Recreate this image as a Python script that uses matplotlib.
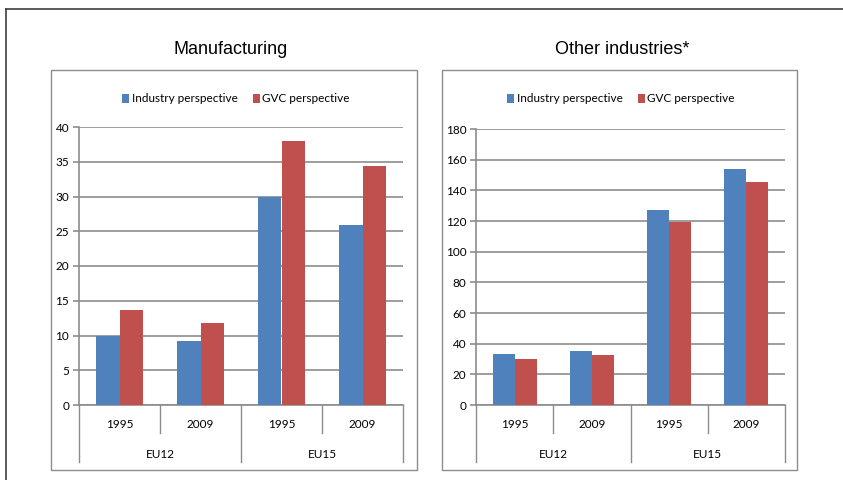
import matplotlib
matplotlib.use("Agg")
import matplotlib.pyplot as plt
from matplotlib.patches import Rectangle
from matplotlib.lines import Line2D

# data
years = ["1995", "2009", "1995", "2009"]
groups = ["EU12", "EU15"]
series = ["Industry perspective", "GVC perspective"]
manuf_industry = [10.0, 9.2, 30.0, 25.9]
manuf_gvc = [13.6, 11.8, 38.0, 34.4]
other_industry = [33.2, 35.4, 127.4, 153.7]
other_gvc = [29.8, 32.6, 119.6, 145.6]

BLUE = "#4F81BD"
RED = "#C0504D"
GRID = "#8c8c8c"
NARROW = ["Lato", "DejaVu Sans"]
SMALL = 8.5

W, H = 843, 480
fig = plt.figure(figsize=(W / 100, H / 100), dpi=100)


def fx(px):
    return px / W


def fy(py):
    return 1 - py / H


# outer frame (left and top edges only visible)
fig.add_artist(Line2D([fx(6), fx(6)], [fy(9), 0], transform=fig.transFigure, color="#404040", lw=1.2))
fig.add_artist(Line2D([fx(6), 1], [fy(9), fy(9)], transform=fig.transFigure, color="#404040", lw=1.2))


def panel(box, axbox, title, title_x, legend_x, ind, gvc, ymax, ystep):
    # chart border
    x0, y0, x1, y1 = box
    fig.add_artist(Rectangle((fx(x0), fy(y1)), fx(x1) - fx(x0), fy(y0) - fy(y1),
                             transform=fig.transFigure, fill=False, ec=GRID, lw=1.0))
    fig.text(fx(title_x), fy(50), title, ha="center", va="center",
             family="Liberation Sans", fontsize=13)

    ax_l, ax_t, ax_r, ax_b = axbox
    ax = fig.add_axes([fx(ax_l), fy(ax_b), fx(ax_r) - fx(ax_l), fy(ax_t) - fy(ax_b)])
    xs = range(len(ind))
    w = 0.285
    b1 = ax.bar([x - w / 2 for x in xs], ind, w, color=BLUE, zorder=3)
    b2 = ax.bar([x + w / 2 for x in xs], gvc, w, color=RED, zorder=3)

    ax.set_xlim(-0.5, len(ind) - 0.5)
    ax.set_ylim(0, ymax)
    ax.set_yticks(range(0, ymax + 1, ystep))
    ax.yaxis.grid(True, color=GRID, lw=1.2, zorder=0)
    ax.set_axisbelow(True)
    for s in ["top", "right"]:
        ax.spines[s].set_visible(False)
    for s in ["left", "bottom"]:
        ax.spines[s].set_color(GRID)
        ax.spines[s].set_linewidth(1.2)
    ax.tick_params(axis="y", colors=GRID, length=4, width=1.2, pad=3)
    for lab in ax.get_yticklabels():
        lab.set_color("black")
        lab.set_family(NARROW)
        lab.set_fontsize(SMALL)
    ax.set_xticks([])

    # multi-level category axis
    hpx = ax_b - ax_t
    tr = ax.get_xaxis_transform()
    for x in [0.5, 2.5]:
        ax.plot([x, x], [0, -28 / hpx], transform=tr, color=GRID, lw=1.0, clip_on=False)
    for x in [-0.5, 1.5, 3.5]:
        ax.plot([x, x], [0, -57 / hpx], transform=tr, color=GRID, lw=1.0, clip_on=False)
    for i, yr in enumerate(years):
        ax.text(i, -20 / hpx, yr, transform=tr, ha="center", va="center",
                family=NARROW, fontsize=SMALL)
    for j, g in enumerate(groups):
        ax.text(2 * j + 0.5, -49 / hpx, g, transform=tr, ha="center", va="center",
                family=NARROW, fontsize=SMALL)

    fig.legend([b1, b2], series, loc="center", bbox_to_anchor=(fx(legend_x), fy(99)),
               ncol=2, frameon=False, handlelength=0.6, handleheight=0.8,
               handletextpad=0.2, columnspacing=1.3,
               prop={"family": NARROW, "size": SMALL})
    return ax


panel((51, 70, 417, 470), (79, 127, 403, 405), "Manufacturing", 231, 236,
      manuf_industry, manuf_gvc, 40, 5)
panel((442, 70, 797, 470), (476, 129, 785, 405), "Other industries*", 622, 621,
      other_industry, other_gvc, 180, 20)

fig.savefig("out.png", dpi=100)
